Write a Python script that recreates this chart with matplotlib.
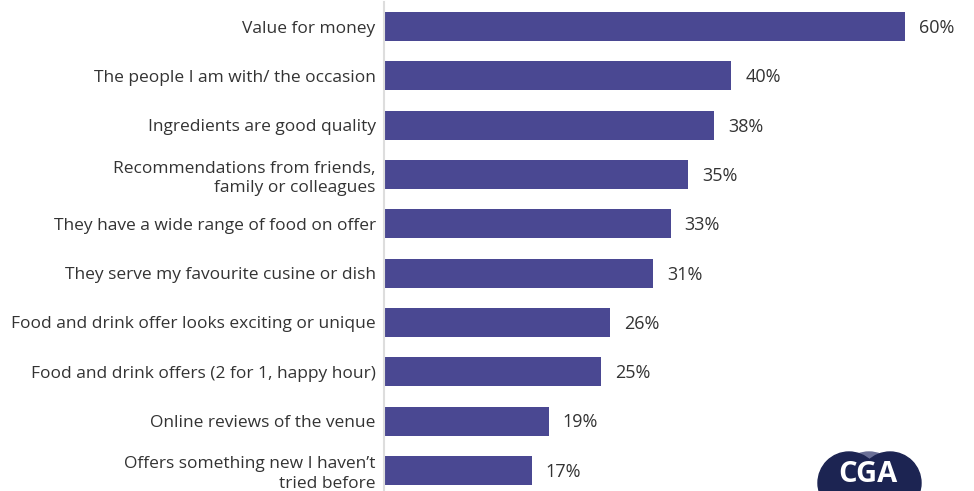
import matplotlib
matplotlib.use("Agg")
import matplotlib.pyplot as plt
from matplotlib.patches import Ellipse

categories = [
    "Value for money",
    "The people I am with/ the occasion",
    "Ingredients are good quality",
    "Recommendations from friends,\nfamily or colleagues",
    "They have a wide range of food on offer",
    "They serve my favourite cusine or dish",
    "Food and drink offer looks exciting or unique",
    "Food and drink offers (2 for 1, happy hour)",
    "Online reviews of the venue",
    "Offers something new I haven\u2019t\ntried before",
]
values = [60, 40, 38, 35, 33, 31, 26, 25, 19, 17]
value_labels = [f"{v}%" for v in values]

W, H = 974, 491
fig = plt.figure(figsize=(W / 100, H / 100), dpi=100)
plt.rcParams['font.family'] = ['Open Sans', 'DejaVu Sans']

left_px, right_px = 384, 384 + 65 * 8.683
top_px, bottom_px = 2, 495
ax = fig.add_axes([left_px / W, 1 - bottom_px / H, (right_px - left_px) / W, (bottom_px - top_px) / H])

y = list(range(len(categories)))
ax.barh(y, values, height=0.59, color="#4A4892")
ax.set_ylim(len(categories) - 0.5, -0.5)
ax.set_xlim(0, 65)
ax.set_yticks(y)
ax.set_yticklabels(categories, fontsize=12.5, color="#333333", linespacing=1.3)
ax.tick_params(axis="y", length=0, pad=6)
ax.set_xticks([])
for s in ["top", "right", "bottom"]:
    ax.spines[s].set_visible(False)
ax.spines["left"].set_color("#dddddd")
ax.spines["left"].set_linewidth(1.5)

for yi, v, lab in zip(y, values, value_labels):
    ax.annotate(lab, (v, yi), xytext=(10, -1), textcoords="offset points",
                va="center", ha="left", fontsize=13, color="#333333")

# logo (decorative)
def circ(cx, cy, r, color, z):
    fig.patches.append(Ellipse((cx / W, 1 - cy / H), 2 * r / W, 2 * r / H,
                               transform=fig.transFigure, color=color, zorder=z))

circ(869, 483, 31, "#6a6f96", 5)
circ(849, 483, 31, "#1c2452", 6)
circ(890, 483, 31, "#1c2452", 6)
fig.text(868 / W, 1 - 474 / H, "CGA", color="white", fontsize=21, fontweight="bold",
         ha="center", va="center", zorder=7, family=["Open Sans", "DejaVu Sans"])

fig.savefig("out.png", dpi=100)
